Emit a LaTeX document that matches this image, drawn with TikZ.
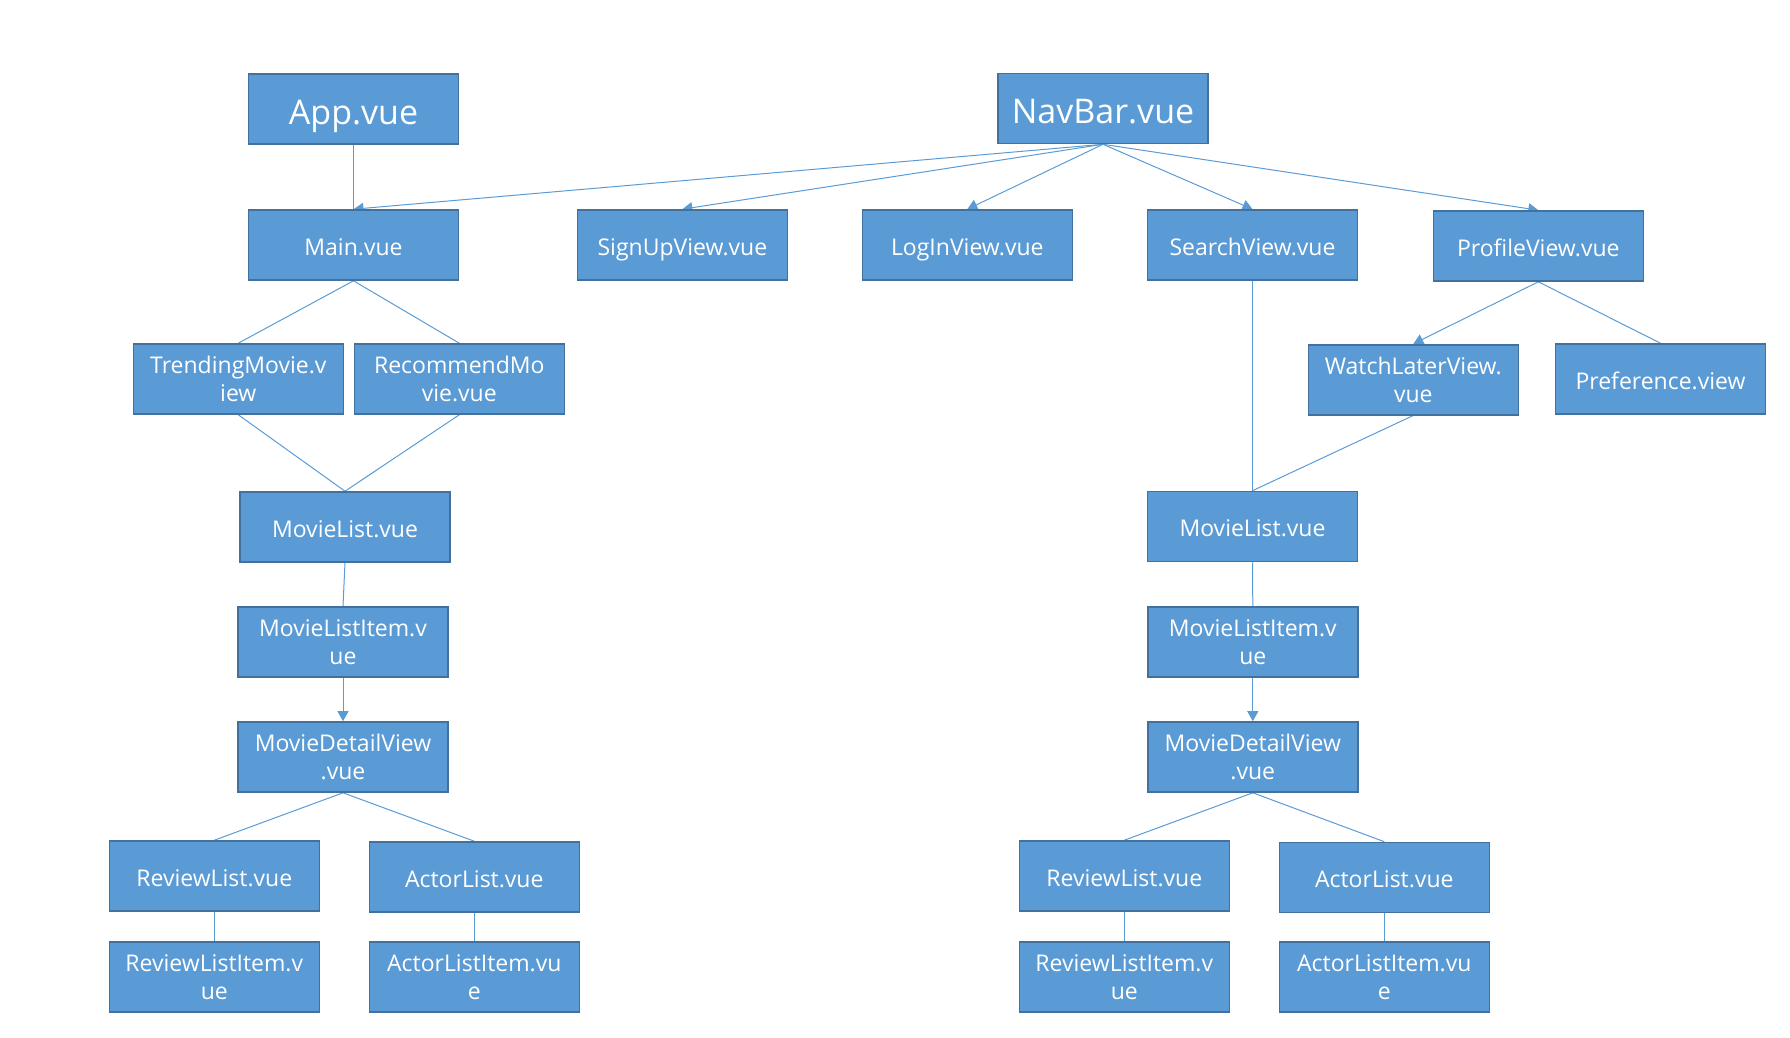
\documentclass[tikz,border=0pt]{standalone}
\usepackage{fontspec}
\setmainfont{Open Sans}
\usepackage{tikz}
\usetikzlibrary{arrows.meta, backgrounds}

\definecolor{vueblue}{HTML}{5B9BD5}
\definecolor{vueedge}{HTML}{41719C}
\newcommand{\topstrut}{\rule{0pt}{1.16em}}
\newcommand{\botstrut}{\rule[-0.26em]{0pt}{0.5em}}

\begin{document}
\begin{tikzpicture}[
  x=1pt, y=-1pt,
  >={Triangle[width=11pt, length=10pt]},
  every node/.style={font=\fontsize{23}{27.7}\selectfont, text=white},
  vuebox/.style={draw=vueedge, fill=vueblue, line width=1.6pt, minimum width=210pt, minimum height=70pt, align=center, inner sep=0pt},
  comp/.style={vuebox, execute at begin node=\topstrut, execute at end node=\botstrut},
  twocomp/.style={vuebox},
  bigcomp/.style={comp, font=\fontsize{34}{40}\selectfont},
  link/.style={draw=vueblue, line width=1pt}
]
\useasboundingbox (0,0) rectangle (1790,1038);

% Top row
\node[bigcomp] (app) at (353.5, 109) {App.vue};
\node[bigcomp] (navbar) at (1103, 108.5) {NavBar.vue};

% Views under the nav bar
\node[comp] (main) at (353.5, 245) {Main.vue};
\node[comp] (signup) at (682.4, 245) {SignUpView.vue};
\node[comp] (login) at (967.3, 245) {LogInView.vue};
\node[comp] (search) at (1252.5, 245) {SearchView.vue};
\node[comp] (profile) at (1538.3, 246) {ProfileView.vue};

% Third row
\node[twocomp] (trending) at (238.3, 379) {TrendingMovie.v\\iew};
\node[twocomp] (recommend) at (459.3, 379) {RecommendMo\\vie.vue};
\node[twocomp] (watchlater) at (1413.3, 379.7) {WatchLaterView.\\vue};
\node[comp] (preference) at (1660.5, 379) {Preference.view};

% Left column
\node[comp] (listL) at (345, 527) {MovieList.vue};
\node[twocomp] (itemL) at (343, 642) {MovieListItem.v\\ue};
\node[twocomp] (detailL) at (343, 757) {MovieDetailView\\.vue};
\node[comp] (reviewsL) at (214.3, 876) {ReviewList.vue};
\node[comp] (actorsL) at (474.3, 877) {ActorList.vue};
\node[twocomp] (reviewL) at (214.3, 977) {ReviewListItem.v\\ue};
\node[twocomp] (actorL) at (474.3, 977) {ActorListItem.vu\\e};

% Right column
\node[comp] (listR) at (1252.5, 526.5) {MovieList.vue};
\node[twocomp] (itemR) at (1252.8, 642) {MovieListItem.v\\ue};
\node[twocomp] (detailR) at (1252.8, 757) {MovieDetailView\\.vue};
\node[comp] (reviewsR) at (1124.3, 876) {ReviewList.vue};
\node[comp] (actorsR) at (1384.3, 877.5) {ActorList.vue};
\node[twocomp] (reviewR) at (1124.3, 977) {ReviewListItem.v\\ue};
\node[twocomp] (actorR) at (1384.3, 977) {ActorListItem.vu\\e};

\begin{scope}[on background layer]
% Nav bar links
\foreach \v in {main, signup, login, search, profile} {
  \draw[link, ->] (navbar.south) -- (\v.north);
}
\draw[link] (app.south) -- (main.north);
% Home page
\draw[link] (main.south) -- (trending.north);
\draw[link] (main.south) -- (recommend.north);
\draw[link] (trending.south) -- (listL.north);
\draw[link] (recommend.south) -- (listL.north);
\draw[link] (listL.south) -- (itemL.north);
\draw[link, ->] (itemL.south) -- (detailL.north);
\draw[link] (detailL.south) -- (reviewsL.north);
\draw[link] (detailL.south) -- (actorsL.north);
\draw[link] (reviewsL.south) -- (reviewL.north);
\draw[link] (actorsL.south) -- (actorL.north);
% Search and profile
\draw[link] (search.south) -- (listR.north);
\draw[link, ->] (profile.south) -- (watchlater.north);
\draw[link] (profile.south) -- (preference.north);
\draw[link] (watchlater.south) -- (listR.north);
\draw[link] (listR.south) -- (itemR.north);
\draw[link, ->] (itemR.south) -- (detailR.north);
\draw[link] (detailR.south) -- (reviewsR.north);
\draw[link] (detailR.south) -- (actorsR.north);
\draw[link] (reviewsR.south) -- (reviewR.north);
\draw[link] (actorsR.south) -- (actorR.north);
\end{scope}

\end{tikzpicture}
\end{document}
